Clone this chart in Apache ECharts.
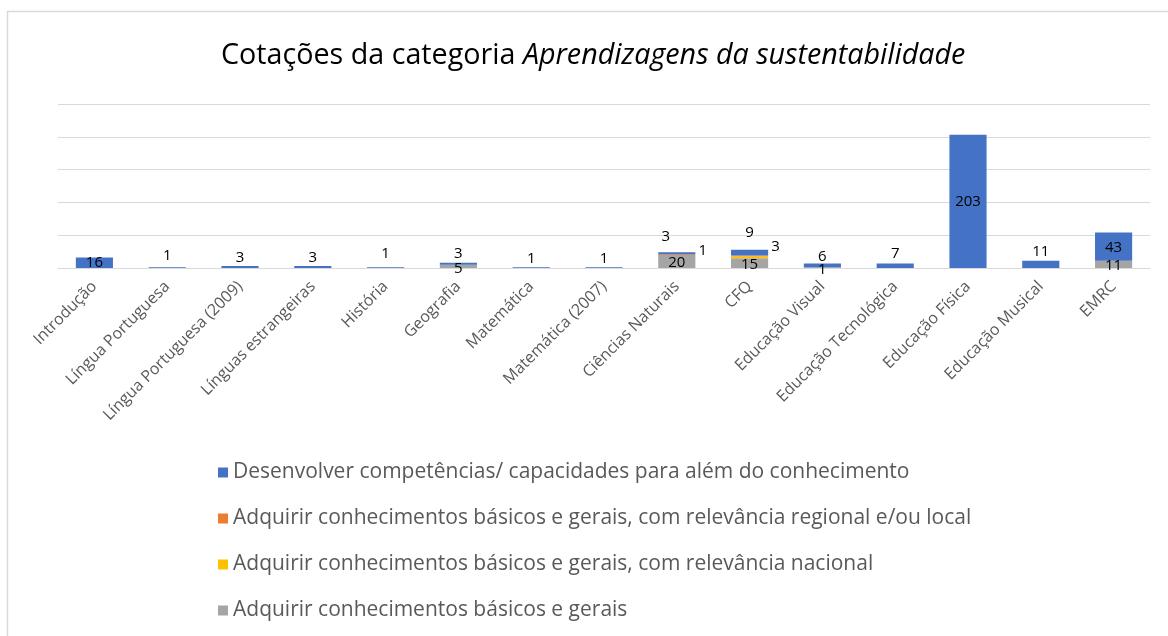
<!DOCTYPE html>
<html>
<head>
<meta charset="utf-8">
<script src="https://cdn.jsdelivr.net/npm/echarts@6/dist/echarts.min.js"></script>
<style>
  html, body { margin: 0; padding: 0; background: #fff; }
  #chart { width: 1168px; height: 636px; }
</style>
</head>
<body>
<div id="chart"></div>
<script>
const categories = [
  'Introdução', 'Língua Portuguesa', 'Língua Portuguesa (2009)', 'Línguas estrangeiras',
  'História', 'Geografia', 'Matemática', 'Matemática (2007)', 'Ciências Naturais', 'CFQ',
  'Educação Visual', 'Educação Tecnológica', 'Educação Física', 'Educação Musical', 'EMRC'
];
const desenvolver = [16, 1, 3, 3, 1, 3, 1, 1, 3, 9, 6, 7, 203, 11, 43];
const regional = [null, null, null, null, null, null, null, null, 1, 1, null, null, null, null, null];
const nacional = [null, null, null, null, null, null, null, null, null, 3, null, null, null, null, null];
const gerais = [null, null, null, null, null, 5, null, null, 20, 15, 1, null, null, null, 11];

const seriesNames = [
  'Desenvolver competências/ capacidades para além do conhecimento',
  'Adquirir conhecimentos básicos e gerais, com relevância regional e/ou local',
  'Adquirir conhecimentos básicos e gerais, com relevância nacional',
  'Adquirir conhecimentos básicos e gerais'
];

// label nudges [dx, dy] from the segment centre, per series key and category index
const nudges = {
  blue: { 1: [0, -12], 2: [0, -9], 3: [0, -9], 4: [0, -14], 5: [0, -10], 6: [0, -9], 7: [0, -9],
          8: [-11, -17], 9: [0, -20], 10: [0, -9], 11: [0, -12], 13: [0, -13], 14: [0, 1] },
  orange: { 8: [26, -4], 9: 'hide' },
  yellow: { 9: [26, -10] },
  gray: { 5: [0, 2], 8: [0, 1], 9: [0, 2], 10: [0, 2], 14: [0, 1] }
};

const font = 'Open Sans';

function makeData(values, key) {
  return values.map((v, i) => {
    const n = nudges[key][i];
    if (v == null) return v;
    if (n === 'hide') return { value: v, label: { show: false } };
    return n ? { value: v, label: { offset: n } } : v;
  });
}

function makeSeries(name, values, key, color) {
  return {
    name: name,
    type: 'bar',
    stack: 'total',
    barCategoryGap: '49%',
    itemStyle: { color: color },
    label: {
      show: true,
      position: 'inside',
      color: '#000',
      fontFamily: font,
      fontSize: 15
    },
    data: makeData(values, key)
  };
}

const chart = echarts.init(document.getElementById('chart'));
chart.setOption({
  animation: false,
  backgroundColor: '#fff',
  graphic: [{
    type: 'rect',
    shape: { x: 7.5, y: 11.5, width: 1200, height: 700 },
    style: { fill: 'none', stroke: '#d9d9d9', lineWidth: 1.5 },
    silent: true
  }],
  title: {
    left: 216,
    top: 36,
    text: '{n|Cotações da categoria }{i|Aprendizagens da sustentabilidade}',
    textStyle: {
      rich: {
        n: { fontFamily: font, fontSize: 28.7, fontWeight: 'normal', color: '#000' },
        i: { fontFamily: font, fontSize: 28.7, fontWeight: 'normal', color: '#000', fontStyle: 'italic' }
      }
    }
  },
  legend: {
    orient: 'vertical',
    left: 213,
    top: 457,
    itemWidth: 10,
    itemHeight: 10,
    itemGap: 25,
    icon: 'rect',
    textStyle: { fontFamily: font, fontSize: 21, color: '#595959', lineHeight: 20 },
    data: seriesNames
  },
  grid: { left: 58, right: 18, top: 104, bottom: 368 },
  xAxis: {
    type: 'category',
    data: categories,
    axisLine: { lineStyle: { color: '#d9d9d9', width: 1 } },
    axisTick: { show: false },
    axisLabel: {
      rotate: 45,
      interval: 0,
      margin: 16,
      fontFamily: font,
      fontSize: 16,
      color: '#595959'
    }
  },
  yAxis: {
    type: 'value',
    min: 0,
    max: 250,
    interval: 50,
    axisLabel: { show: false },
    axisLine: { show: false },
    axisTick: { show: false },
    splitLine: { lineStyle: { color: '#d9d9d9', width: 1 } }
  },
  series: [
    makeSeries(seriesNames[3], gerais, 'gray', '#A5A5A5'),
    makeSeries(seriesNames[2], nacional, 'yellow', '#FFC000'),
    makeSeries(seriesNames[1], regional, 'orange', '#ED7D31'),
    makeSeries(seriesNames[0], desenvolver, 'blue', '#4472C4')
  ]
});
</script>
</body>
</html>
